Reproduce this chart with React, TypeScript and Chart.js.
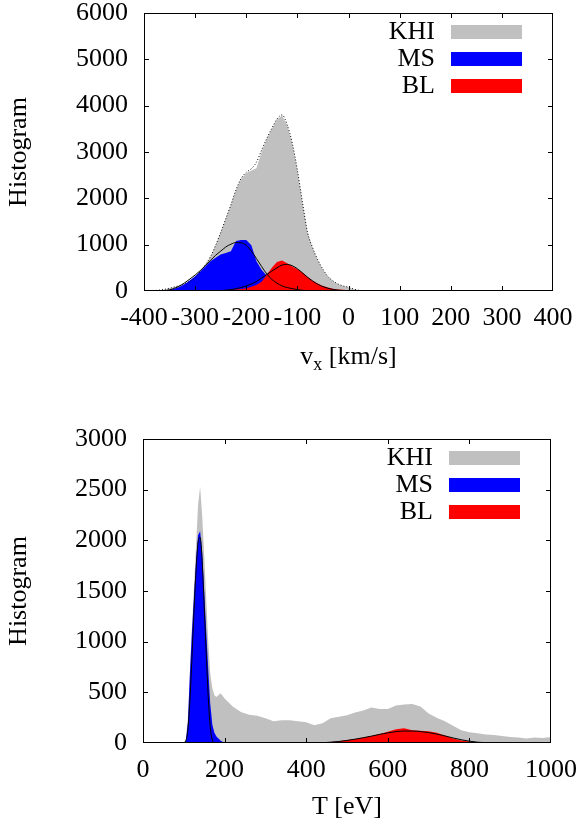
import React, { useEffect, useRef } from 'react';
import { Chart, registerables } from 'chart.js';

Chart.register(...registerables);

const FONT = "'Liberation Serif', 'Times New Roman', Times, serif";

// ---------- Top panel: v_x histogram ----------
const vxBins = [-400, -390, -380, -370, -360, -350, -340, -330, -320, -310, -300, -290, -280, -270, -260, -250, -240, -230, -220, -210, -200, -190, -180, -170, -160, -150, -140, -130, -120, -110, -100, -90, -80, -70, -60, -50, -40, -30, -20, -10, 0, 10, 20, 30, 40, 50];
const khiVx = [0, 3, 8, 18, 35, 58, 85, 120, 160, 210, 290, 420, 560, 740, 980, 1260, 1560, 1860, 2180, 2420, 2540, 2600, 2650, 3000, 3280, 3500, 3700, 3790, 3580, 3180, 2600, 1900, 1250, 920, 660, 460, 300, 210, 145, 105, 80, 40, 15, 5, 0, 0];
const khiVxFit = [2, 4, 9, 19, 36, 60, 88, 122, 162, 212, 292, 422, 562, 742, 982, 1262, 1562, 1862, 2185, 2430, 2560, 2640, 2780, 3040, 3290, 3510, 3710, 3800, 3590, 3190, 2610, 1910, 1260, 930, 670, 470, 310, 215, 150, 108, 82, 42, 16, 6, 1, 0];
const msVx = [0, 2, 3, 8, 15, 25, 50, 90, 150, 230, 320, 420, 530, 640, 720, 790, 820, 860, 1080, 1100, 1100, 990, 640, 460, 330, 220, 150, 95, 60, 40, 25, 12, 5, 0, 0, 0, 0, 0, 0, 0, 0, 0, 0, 0, 0, 0];
const msVxFit = [0, 0, 2, 4, 8, 25, 60, 110, 180, 260, 345, 440, 550, 660, 770, 860, 950, 1010, 1045, 1040, 985, 860, 700, 530, 370, 250, 170, 110, 75, 50, 30, 15, 8, 3, 0, 0, 0, 0, 0, 0, 0, 0, 0, 0, 0, 0];
const blVx = [0, 0, 0, 0, 0, 0, 0, 0, 0, 0, 0, 0, 0, 0, 5, 10, 15, 25, 35, 45, 58, 90, 130, 200, 350, 500, 625, 660, 600, 530, 470, 400, 300, 220, 160, 110, 75, 50, 35, 25, 15, 5, 0, 0, 0, 0];
const blVxFit = [0, 0, 0, 0, 0, 0, 0, 0, 0, 0, 0, 0, 0, 0, 5, 10, 18, 30, 48, 75, 110, 150, 205, 280, 355, 430, 500, 560, 575, 545, 480, 390, 295, 215, 145, 95, 58, 33, 18, 8, 3, 0, 0, 0, 0, 0];

// ---------- Bottom panel: T histogram ----------
const tBins = [0, 95, 100, 105, 110, 115, 120, 125, 130, 135, 140, 145, 150, 155, 160, 165, 170, 175, 180, 190, 200, 220, 240, 260, 280, 300, 320, 340, 360, 380, 400, 420, 440, 460, 480, 500, 520, 540, 560, 580, 600, 620, 640, 660, 680, 700, 720, 740, 760, 780, 800, 820, 840, 860, 880, 900, 920, 940, 960, 980, 1000];
const khiT = [0, 0, 10, 40, 250, 700, 1150, 1550, 1950, 2350, 2530, 2250, 1850, 1420, 1000, 680, 540, 470, 455, 490, 440, 360, 305, 280, 270, 245, 215, 225, 225, 215, 205, 175, 195, 245, 260, 275, 300, 320, 350, 335, 335, 370, 380, 385, 360, 290, 250, 215, 170, 125, 105, 95, 85, 80, 70, 60, 55, 45, 55, 50, 60];
const msT = [0, 0, 0, 20, 200, 690, 1100, 1450, 1800, 2050, 2090, 1880, 1500, 1100, 720, 380, 180, 100, 65, 25, 0, 0, 0, 0, 0, 0, 0, 0, 0, 0, 0, 0, 0, 0, 0, 0, 0, 0, 0, 0, 0, 0, 0, 0, 0, 0, 0, 0, 0, 0, 0, 0, 0, 0, 0, 0, 0, 0, 0, 0, 0];
const msTFit = [0, 0, 0, 20, 130, 420, 850, 1300, 1700, 1980, 2030, 1800, 1350, 880, 450, 150, 30, 5, 0, 0, 0, 0, 0, 0, 0, 0, 0, 0, 0, 0, 0, 0, 0, 0, 0, 0, 0, 0, 0, 0, 0, 0, 0, 0, 0, 0, 0, 0, 0, 0, 0, 0, 0, 0, 0, 0, 0, 0, 0, 0, 0];
const blT = [0, 0, 0, 0, 0, 0, 0, 0, 0, 0, 0, 0, 0, 0, 0, 0, 0, 0, 0, 0, 0, 0, 0, 0, 0, 0, 0, 0, 0, 0, 0, 0, 0, 10, 18, 30, 40, 55, 70, 90, 110, 135, 145, 125, 120, 115, 100, 75, 45, 25, 15, 8, 3, 0, 0, 0, 0, 0, 0, 0, 0];
const blTFit = [0, 0, 0, 0, 0, 0, 0, 0, 0, 0, 0, 0, 0, 0, 0, 0, 0, 0, 0, 0, 0, 0, 0, 0, 0, 0, 0, 0, 0, 0, 0, 0, 3, 8, 15, 25, 38, 52, 68, 85, 100, 112, 118, 118, 113, 103, 88, 70, 50, 32, 18, 8, 3, 0, 0, 0, 0, 0, 0, 0, 0];

const legendNames = ['KHI', 'MS', 'BL'];
const KHI_COLOR = '#c0c0c0';
const MS_COLOR = '#0000ff';
const BL_COLOR = '#ff0000';

const toPts = (xs: number[], ys: number[]) => xs.map((x, i) => ({ x, y: ys[i] }));

function fillSet(label: string, xs: number[], ys: number[], color: string, order: number) {
  return {
    label,
    data: toPts(xs, ys),
    backgroundColor: color,
    borderColor: 'rgba(0,0,0,0)',
    borderWidth: 0,
    pointRadius: 0,
    fill: 'origin',
    tension: 0,
    order,
    legendSwatch: true,
  };
}

function lineSet(label: string, xs: number[], ys: number[], order: number, dash: number[] = []) {
  return {
    label,
    data: toPts(xs, ys),
    borderColor: '#000',
    borderWidth: 1,
    borderDash: dash,
    pointRadius: 0,
    fill: false,
    cubicInterpolationMode: 'monotone',
    order,
  };
}

const framePlugin = {
  id: 'gpFrame',
  afterDatasetsDraw(chart: any) {
    const { ctx, chartArea: a, scales } = chart;
    ctx.save();
    ctx.strokeStyle = '#000';
    ctx.lineWidth = 1;
    ctx.strokeRect(a.left + 0.5, a.top + 0.5, a.right - a.left - 1, a.bottom - a.top - 1);
    const L = 5;
    ctx.beginPath();
    scales.x.ticks.forEach((t: any) => {
      const p = Math.round(scales.x.getPixelForValue(t.value)) + 0.5;
      if (p <= a.left + 2 || p >= a.right - 2) return;
      ctx.moveTo(p, a.bottom);
      ctx.lineTo(p, a.bottom - L);
      ctx.moveTo(p, a.top);
      ctx.lineTo(p, a.top + L);
    });
    scales.y.ticks.forEach((t: any) => {
      const p = Math.round(scales.y.getPixelForValue(t.value)) + 0.5;
      if (p <= a.top + 2 || p >= a.bottom - 2) return;
      ctx.moveTo(a.left, p);
      ctx.lineTo(a.left + L, p);
      ctx.moveTo(a.right, p);
      ctx.lineTo(a.right - L, p);
    });
    ctx.stroke();
    ctx.restore();
  },
};

const legendPlugin = {
  id: 'gpLegend',
  afterDraw(chart: any) {
    const { ctx, chartArea: a } = chart;
    const items = chart.data.datasets.filter((d: any) => d.legendSwatch);
    ctx.save();
    items.forEach((d: any, i: number) => {
      const cy = a.top + 19 + i * 27;
      const sx = a.right - 102;
      ctx.fillStyle = d.backgroundColor;
      ctx.fillRect(sx, cy - 7, 71, 14);
      ctx.fillStyle = '#000';
      ctx.font = `26px ${FONT}`;
      ctx.textAlign = 'right';
      ctx.textBaseline = 'middle';
      ctx.fillText(d.label, sx - 16, cy);
    });
    ctx.restore();
  },
};

const vxTitlePlugin = {
  id: 'vxTitle',
  afterDraw(chart: any) {
    const { ctx, chartArea: a } = chart;
    const cx = (a.left + a.right) / 2;
    const base = a.bottom + 73;
    ctx.save();
    ctx.fillStyle = '#000';
    ctx.textBaseline = 'alphabetic';
    ctx.textAlign = 'left';
    const big = `26px ${FONT}`;
    const small = `18px ${FONT}`;
    ctx.font = big;
    const w1 = ctx.measureText('v').width;
    const w3 = ctx.measureText(' [km/s]').width;
    ctx.font = small;
    const w2 = ctx.measureText('x').width;
    let x = cx - (w1 + w2 + w3) / 2;
    ctx.font = big;
    ctx.fillText('v', x, base);
    x += w1;
    ctx.font = small;
    ctx.fillText('x', x, base + 6);
    x += w2;
    ctx.font = big;
    ctx.fillText(' [km/s]', x, base);
    ctx.restore();
  },
};

function buildConfig(p: any) {
  const tickFont = { family: FONT, size: 26 };
  return {
    type: 'line',
    data: { datasets: p.datasets },
    options: {
      responsive: false,
      maintainAspectRatio: false,
      animation: false,
      events: [],
      layout: { padding: { top: p.padTop, right: p.padRight, left: 0, bottom: 0 } },
      plugins: { legend: { display: false }, tooltip: { enabled: false }, title: { display: false } },
      scales: {
        x: {
          type: 'linear',
          min: p.xMin,
          max: p.xMax,
          grid: { display: false, drawTicks: false },
          border: { display: false },
          ticks: {
            stepSize: p.xStep,
            autoSkip: false,
            maxRotation: 0,
            minRotation: 0,
            padding: 12,
            color: '#000',
            font: tickFont,
            callback: (v: any) => String(v),
          },
          title: p.xTitle
            ? { display: true, text: p.xTitle, color: '#000', font: tickFont, padding: { top: 0, bottom: p.xTitlePad } }
            : { display: false },
          afterFit: (s: any) => {
            s.height = p.xHeight;
            s.paddingLeft = 0;
            s.paddingRight = 0;
          },
        },
        y: {
          type: 'linear',
          min: 0,
          max: p.yMax,
          grid: { display: false, drawTicks: false },
          border: { display: false },
          ticks: {
            stepSize: p.yStep,
            padding: 16,
            color: '#000',
            font: tickFont,
            callback: (v: any) => String(v),
          },
          title: { display: true, text: 'Histogram', color: '#000', font: tickFont, padding: { top: 3.4, bottom: 0 } },
          afterFit: (s: any) => {
            s.width = p.yWidth;
            s.paddingTop = 0;
            s.paddingBottom = 0;
          },
        },
      },
    },
    plugins: p.plugins,
  };
}

function ChartCanvas({ config }: { config: any }) {
  const ref = useRef<HTMLCanvasElement | null>(null);
  useEffect(() => {
    const chart = new Chart(ref.current as HTMLCanvasElement, config);
    return () => chart.destroy();
  }, []);
  return <canvas ref={ref} width={582} height={414} style={{ display: 'block', width: 582, height: 414 }} />;
}

const topConfig = buildConfig({
  datasets: [
    fillSet(legendNames[0], vxBins, khiVx, KHI_COLOR, 7),
    fillSet(legendNames[1], vxBins, msVx, MS_COLOR, 6),
    fillSet(legendNames[2], vxBins, blVx, BL_COLOR, 5),
    lineSet('KHI fit', vxBins, khiVxFit, 3, [1, 2]),
    lineSet('MS fit', vxBins, msVxFit, 2),
    lineSet('BL fit', vxBins, blVxFit, 1),
  ],
  xMin: -400,
  xMax: 400,
  xStep: 100,
  yMax: 6000,
  yStep: 1000,
  padTop: 13,
  padRight: 29,
  yWidth: 144,
  xHeight: 123,
  xTitle: null,
  xTitlePad: 0,
  plugins: [framePlugin, legendPlugin, vxTitlePlugin],
});

const bottomConfig = buildConfig({
  datasets: [
    fillSet(legendNames[0], tBins, khiT, KHI_COLOR, 7),
    fillSet(legendNames[1], tBins, msT, MS_COLOR, 6),
    fillSet(legendNames[2], tBins, blT, BL_COLOR, 5),
    lineSet('MS fit', tBins, msTFit, 2),
    lineSet('BL fit', tBins, blTFit, 1),
  ],
  xMin: 0,
  xMax: 1000,
  xStep: 200,
  yMax: 3000,
  yStep: 500,
  padTop: 25,
  padRight: 31,
  yWidth: 143,
  xHeight: 85,
  xTitle: 'T [eV]',
  xTitlePad: 5.4,
  plugins: [framePlugin, legendPlugin],
});

export default function App() {
  return (
    <div style={{ position: 'absolute', left: 0, top: 0, width: 582, height: 828, background: '#fff' }}>
      <ChartCanvas config={topConfig} />
      <ChartCanvas config={bottomConfig} />
    </div>
  );
}
